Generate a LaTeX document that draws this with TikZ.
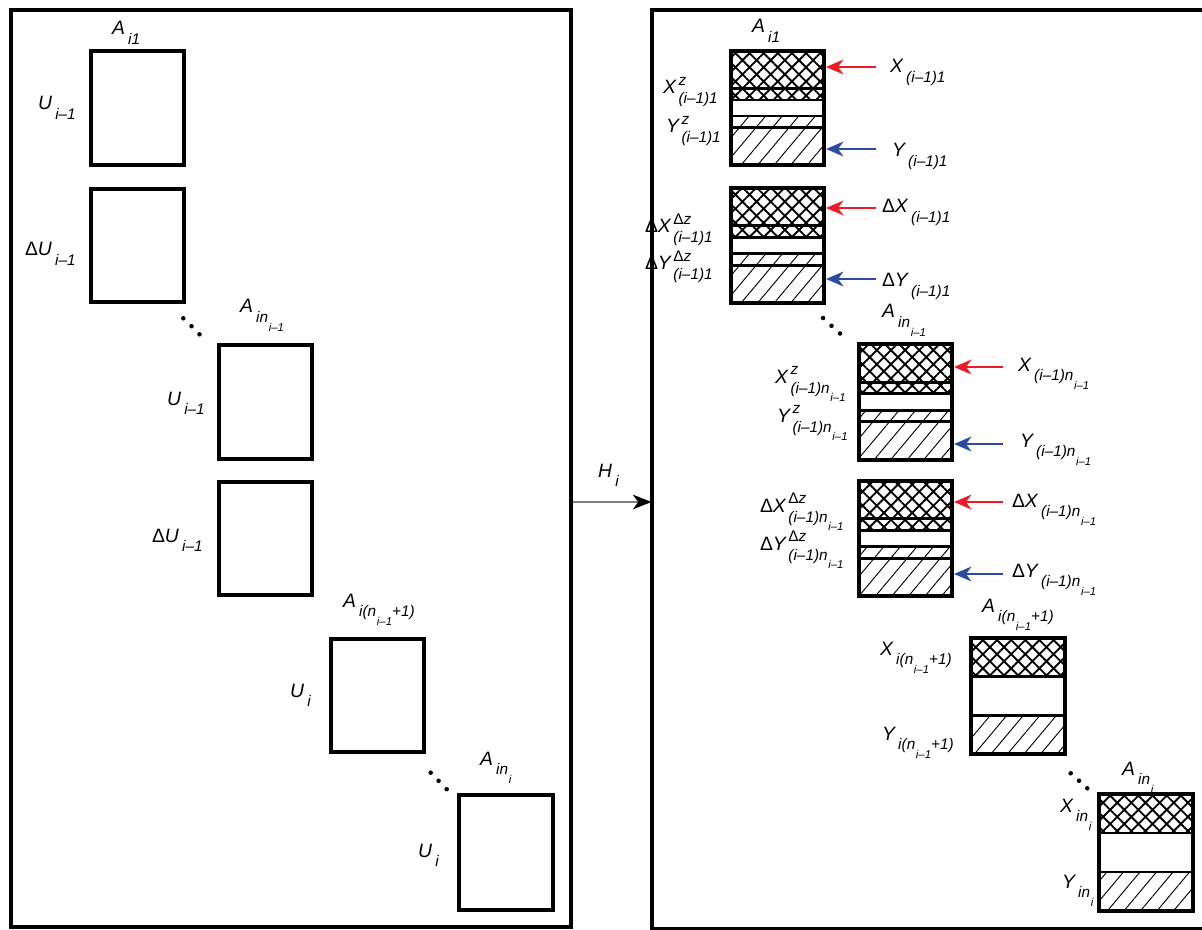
\documentclass[tikz,border=0pt]{standalone}
\usepackage{fontspec}
\setmainfont{Liberation Sans}
\usetikzlibrary{arrows.meta,patterns.meta,fit}
\definecolor{arrred}{RGB}{237,28,36}
\definecolor{arrblue}{RGB}{44,74,160}
\newcommand{\lbsub}[2][7pt]{\kern2.5pt\raisebox{-#1}{\fontsize{11.5}{11.5}\selectfont #2}}
\newcommand{\lbssub}[2][6.5pt]{\kern0.5pt\raisebox{-#1}{\fontsize{8.5}{8.5}\selectfont #2}}
\newcommand{\lbss}[3][7.5pt]{\kern2pt\rlap{\raisebox{6.5pt}{\fontsize{11.5}{11.5}\selectfont #2}}\raisebox{-#1}{\fontsize{11.5}{11.5}\selectfont #3}}
\newcommand{\dlt}{{\upshape Δ}}
\tikzset{
  lbl/.style={anchor=base west, inner sep=0pt, outer sep=0pt, font=\fontsize{14.5}{14.5}\selectfont\itshape},
  bx/.style={draw, line width=3pt, inner sep=0pt},
  frm/.style={line width=3pt},
  sepline/.style={line width=2.2pt},
  xh/.style={pattern={Hatch[angle=45,distance=7.5pt,line width=1.4pt]}},
  lh/.style={pattern={Lines[angle=50,distance=9.5pt,line width=0.7pt]}},
  redarr/.style={arrred, line width=2pt, -{Stealth[length=13pt,width=11pt,inset=4pt]}},
  bluearr/.style={arrblue, line width=2pt, -{Stealth[length=13pt,width=11pt,inset=4pt]}},
  harr/.style={gray, line width=0.8pt, -{Stealth[length=14pt,width=11pt,inset=4pt,color=black]}},
  ddot/.style={fill=black},
}
\newcommand{\plainbox}[5]{%
  \coordinate (#1a) at (#2,#3); \coordinate (#1b) at (#4,#5);
  \node[bx, fit=(#1a)(#1b)] (#1) {};}
\newcommand{\fivebox}[5]{%
  \path[xh] (#2,#3) rectangle (#4,{#3+0.43*(#5-#3)});
  \path[lh] (#2,{#3+0.57*(#5-#3)}) rectangle (#4,#5);
  \foreach \f in {0.33,0.43,0.57,0.67} {\draw[sepline] (#2,{#3+\f*(#5-#3)}) -- (#4,{#3+\f*(#5-#3)});}
  \plainbox{#1}{#2}{#3}{#4}{#5}}
\newcommand{\threebox}[5]{%
  \path[xh] (#2,#3) rectangle (#4,{#3+0.3333*(#5-#3)});
  \path[lh] (#2,{#3+0.6667*(#5-#3)}) rectangle (#4,#5);
  \foreach \f in {0.3333,0.6667} {\draw[sepline] (#2,{#3+\f*(#5-#3)}) -- (#4,{#3+\f*(#5-#3)});}
  \plainbox{#1}{#2}{#3}{#4}{#5}}
\newcommand{\threedots}[6]{%
  \fill[ddot] (#1,#2) circle (1.7pt); \fill[ddot] (#3,#4) circle (1.7pt); \fill[ddot] (#5,#6) circle (1.7pt);}
\begin{document}
\begin{tikzpicture}[x=0.75pt,y=-0.75pt]
\useasboundingbox (0,0) rectangle (1202,930);
% frames
\coordinate (f1a) at (10.5,10.5); \coordinate (f1b) at (570.5,927);
\node[draw, frm, inner sep=0pt, fit=(f1a)(f1b)] (F1) {};
\draw[frm] (1210,10.5) -- (651.5,10.5) -- (651.5,929) -- (1210,929);
\coordinate (F2w) at (651.5,502);
% left boxes
\plainbox{L1}{91}{51}{184}{165}
\plainbox{L2}{91}{189}{184}{302}
\plainbox{L3}{219}{345}{312}{459}
\plainbox{L4}{219}{482}{312}{595}
\plainbox{L5}{331}{639}{424}{752}
\plainbox{L6}{459}{795}{553}{910}
\threedots{183.3}{318.3}{191.5}{326.2}{199.5}{334.3}
\threedots{430.7}{772.7}{438.6}{780.8}{446.7}{789.2}
% left labels
\node[lbl] (la1) at (112,35) {A\lbsub{i1}};
\node[lbl] (lu1) at (38,110) {U\lbsub{i–1}};
\node[lbl] (ldu1) at (25,256) {\dlt U\lbsub{i–1}};
\node[lbl] (la2) at (240,313) {A\lbsub{in\lbssub{i–1}}};
\node[lbl] (lu2) at (167,405) {U\lbsub{i–1}};
\node[lbl] (ldu2) at (152,542) {\dlt U\lbsub{i–1}};
\node[lbl] (la3) at (343,607) {A\lbsub{i(n\lbssub{i–1}+1)}};
\node[lbl] (lu3) at (290,697) {U\lbsub{i}};
\node[lbl] (la4) at (480,765) {A\lbsub{in\lbssub{i}}};
\node[lbl] (lu4) at (418,857) {U\lbsub{i}};
% H arrow
\coordinate (hs) at (F1.east |- F2w);
\draw[harr] (hs) -- (F2w);
\node[lbl] (hl) at (598,477) {H\lbsub{i}};
% right boxes
\fivebox{R1}{731}{51}{824}{165}
\fivebox{R2}{731}{188}{824}{303}
\fivebox{R3}{859}{344}{952}{460}
\fivebox{R4}{859}{481}{952}{596}
\threebox{R5}{971}{638}{1065}{754}
\threebox{R6}{1099}{794}{1193}{911}
\threedots{823}{318}{831.5}{325.8}{840}{333.5}
\threedots{1070.7}{773.3}{1079}{780.7}{1087.3}{788.3}
% arrows
\coordinate (r1x) at (876,67);  \draw[redarr] (r1x) -- (r1x -| R1.east);
\coordinate (r1y) at (876,149); \draw[bluearr] (r1y) -- (r1y -| R1.east);
\coordinate (r2x) at (876,208); \draw[redarr] (r2x) -- (r2x -| R2.east);
\coordinate (r2y) at (876,279); \draw[bluearr] (r2y) -- (r2y -| R2.east);
\coordinate (r3x) at (1003,367); \draw[redarr] (r3x) -- (r3x -| R3.east);
\coordinate (r3y) at (1003,444); \draw[bluearr] (r3y) -- (r3y -| R3.east);
\coordinate (r4x) at (1003,502); \draw[redarr] (r4x) -- (r4x -| R4.east);
\coordinate (r4y) at (1003,574); \draw[bluearr] (r4y) -- (r4y -| R4.east);
% right labels
\node[lbl] (ra1) at (752,33) {A\lbsub{i1}};
\node[lbl] (rxz1) at (663,94) {X\lbss{z}{(i–1)1}};
\node[lbl] (ryz1) at (666,133) {Y\lbss{z}{(i–1)1}};
\node[lbl] (rx1) at (890,73) {X\lbsub{(i–1)1}};
\node[lbl] (ry1) at (892,157) {Y\lbsub{(i–1)1}};
\node[lbl] (rdxz1) at (645,233) {\dlt X\lbss{\dlt z}{(i–1)1}};
\node[lbl] (rdyz1) at (645,270) {\dlt Y\lbss{\dlt z}{(i–1)1}};
\node[lbl] (rdx1) at (882,213) {\dlt X\lbsub{(i–1)1}};
\node[lbl] (rdy1) at (882,287) {\dlt Y\lbsub{(i–1)1}};
\node[lbl] (ra2) at (882,318) {A\lbsub{in\lbssub{i–1}}};
\node[lbl] (rxz2) at (775,383) {X\lbss{z}{(i–1)n\lbssub{i–1}}};
\node[lbl] (ryz2) at (777,422) {Y\lbss{z}{(i–1)n\lbssub{i–1}}};
\node[lbl] (rx2) at (1018,371) {X\lbsub{(i–1)n\lbssub{i–1}}};
\node[lbl] (ry2) at (1020,447) {Y\lbsub{(i–1)n\lbssub{i–1}}};
\node[lbl] (rdxz2) at (760,512) {\dlt X\lbss{\dlt z}{(i–1)n\lbssub{i–1}}};
\node[lbl] (rdyz2) at (760,550) {\dlt Y\lbss{\dlt z}{(i–1)n\lbssub{i–1}}};
\node[lbl] (rdx2) at (1012,507) {\dlt X\lbsub{(i–1)n\lbssub{i–1}}};
\node[lbl] (rdy2) at (1012,577) {\dlt Y\lbsub{(i–1)n\lbssub{i–1}}};
\node[lbl] (ra3) at (982,612) {A\lbsub{i(n\lbssub{i–1}+1)}};
\node[lbl] (rx3) at (880,655) {X\lbsub{i(n\lbssub{i–1}+1)}};
\node[lbl] (ry3) at (882,740) {Y\lbsub{i(n\lbssub{i–1}+1)}};
\node[lbl] (ra4) at (1122,775) {A\lbsub{in\lbssub{i}}};
\node[lbl] (rx4) at (1060,812) {X\lbsub{in\lbssub{i}}};
\node[lbl] (ry4) at (1062,888) {Y\lbsub{in\lbssub{i}}};
\end{tikzpicture}
\end{document}
